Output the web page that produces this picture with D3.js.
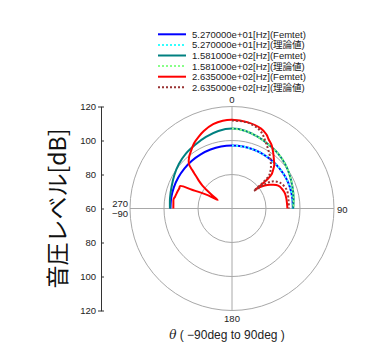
<!DOCTYPE html>
<html><head><meta charset="utf-8">
<script src="https://cdn.jsdelivr.net/npm/d3@7"></script>
<style>body{margin:0;background:#fff}svg{display:block}</style>
</head><body>
<svg id="c" width="377" height="356"></svg>
<script>
// ---- data ----
const angFull = [-90,-80,-70,-60,-50,-40,-30,-20,-10,0,10,20,30,40,50,60,70,80,90];
const angHalf = [0,10,20,30,40,50,60,70,80,90];
const blueFemtet = [96.2,96.3,96.4,96.5,96.6,96.7,96.8,96.9,97.0,97.0,97.0,96.9,96.8,96.7,96.6,96.5,96.3,96.0,95.8];
const blueTheory = [97.0,97.0,96.9,96.8,96.7,96.6,96.5,96.3,96.0,95.8];
const tealFemtet = [96.5,97.0,97.8,99.2,100.8,102.2,103.3,104.8,106.3,107.0,106.3,104.8,103.3,102.2,100.8,99.2,97.8,96.8,96.0];
const tealTheory = [107.0,106.3,104.8,103.3,102.2,100.8,99.2,97.8,96.8,96.1];
const redAng = [-90,-85,-81,-78.3,-75,-71,-69,-66.6,-65,-63,-61,-59.3,-55.4,-52.2,-50,-48,-46,-44,-40,-35,-30,-25,-20,-12.6,-6,0,10,20,25,28,32,37,41,44,47,49,50.5,51,51.3,52,55,58,62,65.6,70,74,80,90];
const redFemtet = [94.5,94.6,94.8,94.2,93.8,93.4,93.2,93.3,86.0,80.5,76.0,69.8,75.7,82.0,85.5,88.5,92.5,96.5,99.3,101.8,104.5,106.5,108.5,110.8,111.9,112.2,111.6,110.0,108.0,106.0,104.0,100.4,97.6,95.8,93.0,91.0,87.0,82.0,77.5,80.0,83.5,86.3,89.5,91.0,91.8,92.4,92.5,92.6];
const redTheoryAng = [0,10,18,22,25.7,30,36.3,43,47,48.8,50,50.8,51.3,52,53.5,56,61.7,71.3,81.5,90];
const redTheory = [111.8,111.4,109.5,107.5,104.7,101.7,97.8,93.6,90.5,88.4,84.0,78.0,76.5,79.0,84.0,88.5,92.0,94.0,93.6,93.5];
const legendLabels = ["5.270000e+01[Hz](Femtet)","5.270000e+01[Hz](理論値)","1.581000e+02[Hz](Femtet)","1.581000e+02[Hz](理論値)","2.635000e+02[Hz](Femtet)","2.635000e+02[Hz](理論値)"];
const yTickValues = [-60,-40,-20,0,20,40,60];
const angleLabels = ["0","90","180"];

// ---- layout ----
const svg = d3.select("#c");
const cx = 232, cy = 208.5, R = 102;
const rScale = d3.scaleLinear().domain([60,120]).range([0,R]);
const g = svg.append("g").attr("transform",`translate(${cx},${cy})`);
const grid = "#a8a8a8";
[80,100,120].forEach(v=>{
  g.append("circle").attr("r",rScale(v)).attr("fill","none").attr("stroke",grid).attr("stroke-width",1);
});
g.append("line").attr("x1",-R).attr("x2",R).attr("y1",0).attr("y2",0).attr("stroke",grid);
g.append("line").attr("y1",-R).attr("y2",R).attr("x1",0).attr("x2",0).attr("stroke",grid);

const numFont = "'Liberation Sans', Arial, sans-serif";
const lab = (x,y,t,anchor)=>svg.append("text").attr("x",x).attr("y",y).attr("text-anchor",anchor||"middle")
  .attr("font-family",numFont).attr("font-size",9.5).attr("fill","#222").text(t);
lab(cx, cy-R-4, angleLabels[0]);
lab(cx+R+3, cy+4, angleLabels[1], "start");
lab(cx, cy+R+11, angleLabels[2]);
lab(cx-R-2, cy-2, "270", "end");
lab(cx-R-2, cy+8, "−90", "end");

const rad = d=>d*Math.PI/180;
function drawSeries(ang, vals, color, dash){
  const pts = ang.map((a,i)=>[rad(a), rScale(vals[i])]);
  const line = d3.lineRadial().angle(d=>d[0]).radius(d=>d[1]).curve(d3.curveCatmullRom.alpha(0.5));
  const p = g.append("path").attr("d",line(pts)).attr("fill","none").attr("stroke",color)
    .attr("stroke-width",2).attr("stroke-linejoin","round");
  if(dash) p.attr("stroke-dasharray",dash);
}
const colors = ["#0000ff","#33ffff","#008080","#88ff88","#ff0000","#993333"];
drawSeries(angFull, blueFemtet, colors[0]);
drawSeries(angHalf, blueTheory, colors[1], "2,2");
drawSeries(angFull, tealFemtet, colors[2]);
drawSeries(angHalf, tealTheory, colors[3], "2,2");
drawSeries(redAng, redFemtet, colors[4]);
drawSeries(redTheoryAng, redTheory, colors[5], "2,2");

// vertical axis
const yScale = d3.scaleLinear().domain([-60,60]).range([cy+R, cy-R]);
const ax = svg.append("g").attr("transform","translate(101,0)")
  .call(d3.axisLeft(yScale).tickValues(yTickValues).tickSize(3).tickFormat(d=>String(60+Math.abs(d))));
ax.select(".domain").attr("stroke","#333");
ax.selectAll(".tick line").attr("stroke","#333").attr("x2",3);
ax.selectAll("text").attr("font-family",numFont).attr("font-size",9.5).attr("fill","#222").attr("x",-5);

svg.append("text").attr("transform",`translate(66,${cy}) rotate(-90)`).attr("text-anchor","middle")
  .attr("font-family","'Noto Sans CJK JP', sans-serif").attr("font-size",23).attr("fill","#111").text("音圧レベル[dB]");

const xl = svg.append("text").attr("x",227).attr("y",339).attr("text-anchor","middle")
  .attr("font-family",numFont).attr("font-size",12).attr("fill","#222");
xl.append("tspan").attr("font-style","italic").attr("font-family","'DejaVu Serif', serif").text("θ");
xl.append("tspan").text(" ( −90deg to 90deg )");

// legend
const leg = svg.append("g");
legendLabels.forEach((t,i)=>{
  const y = 34.3 + i*10.6;
  const l = leg.append("line").attr("x1",158).attr("x2",186).attr("y1",y).attr("y2",y)
    .attr("stroke",colors[i]).attr("stroke-width",2);
  if(i%2===1) l.attr("stroke-dasharray","2,2");
  leg.append("text").attr("x",192).attr("y",y+3.5).attr("font-family",numFont+", 'Noto Sans CJK JP'")
    .attr("font-size",9.5).attr("fill","#222").text(t);
});
</script>
</body></html>
